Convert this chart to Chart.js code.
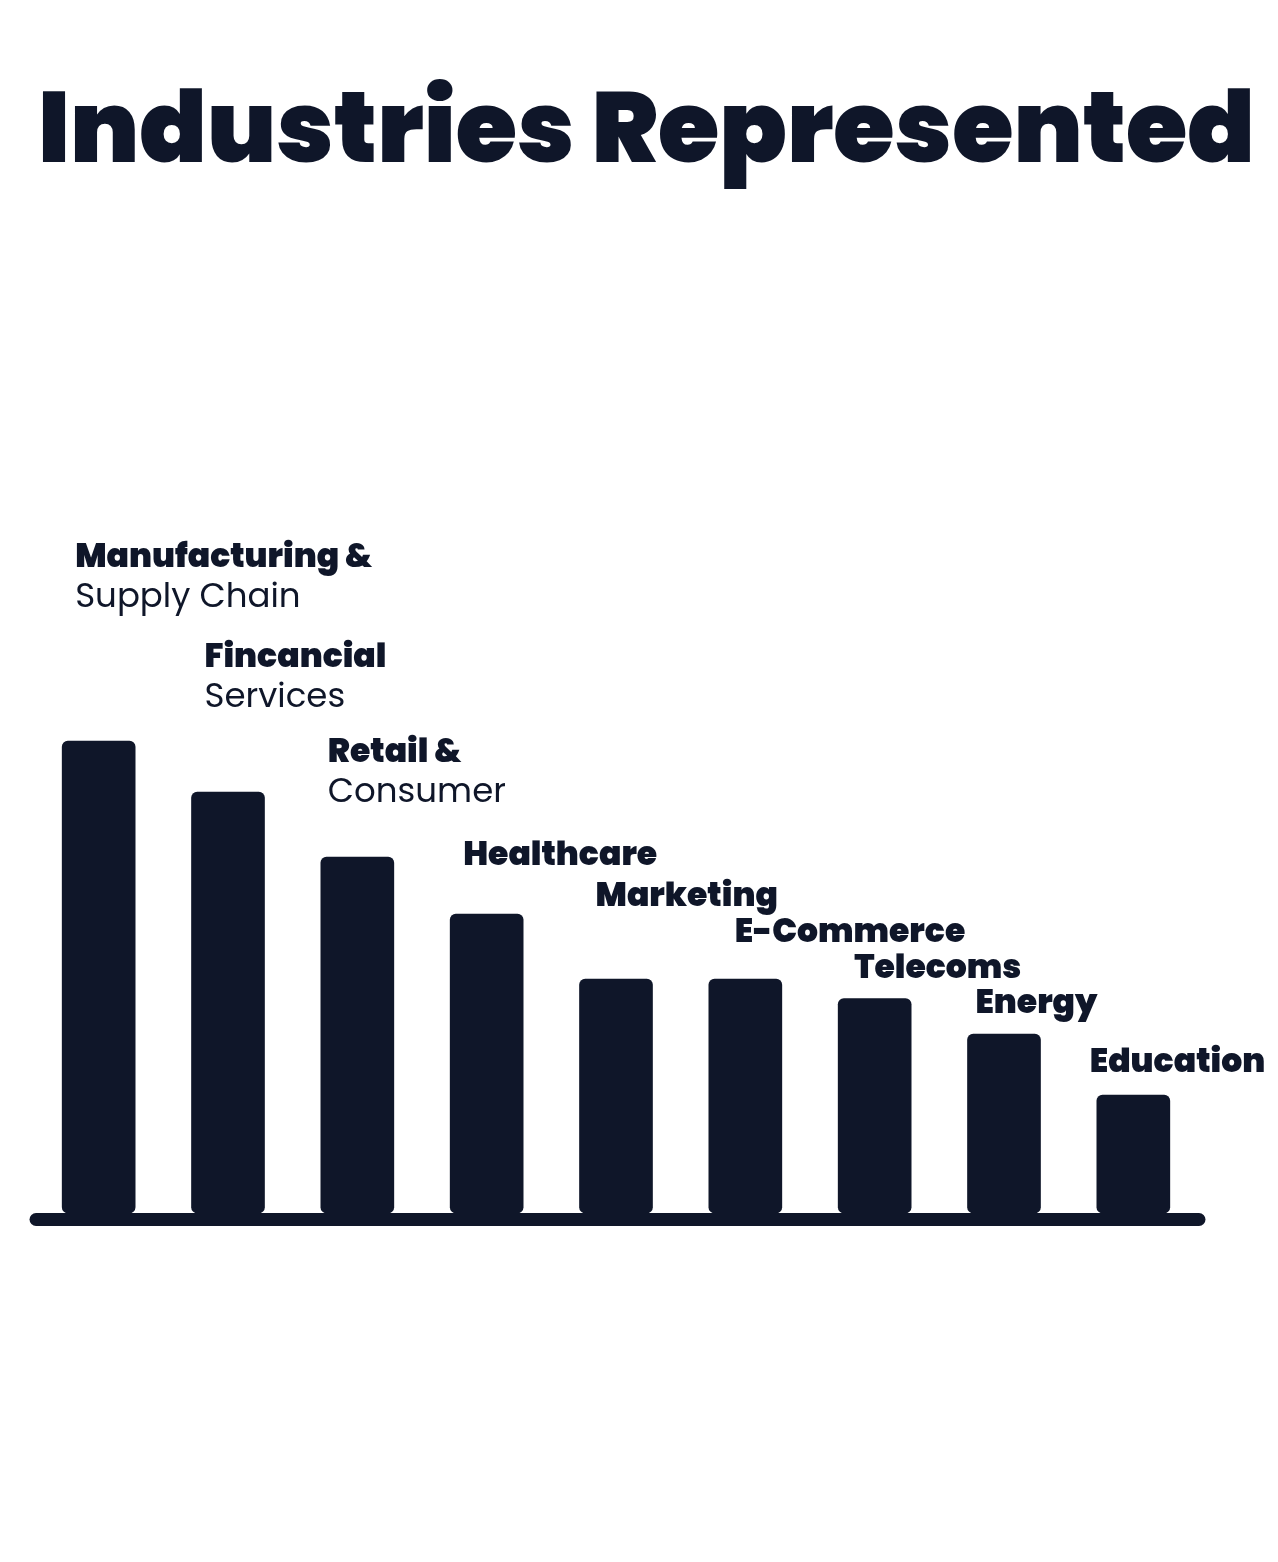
<!DOCTYPE html>
<html>
<head>
<meta charset="utf-8">
<script src="https://cdn.jsdelivr.net/npm/chart.js@4.4.1/dist/chart.umd.min.js"></script>
<style>
  html, body { margin: 0; padding: 0; background: #ffffff; }
  #wrap { width: 1278px; height: 1562px; position: relative; }
</style>
</head>
<body>
<div id="wrap"><canvas id="c"></canvas></div>
<script>
// ---- data ----
const categories = ["Manufacturing & Supply Chain", "Financial Services", "Retail & Consumer", "Healthcare", "Marketing", "E-Commerce", "Telecoms", "Energy", "Education"];
const values = [24, 21.4, 18.1, 15.2, 11.9, 11.9, 10.9, 9.1, 6];
const labelBold = ["Manufacturing &", "Fincancial", "Retail &", "Healthcare", "Marketing", "E-Commerce", "Telecoms", "Energy", "Education"];
const labelRegular = ["Supply Chain", "Services", "Consumer", "", "", "", "", "", ""];
const titleText = "Industries Represented";

// ---- style ----
const INK = "#0f1629";
const FAMILY = "Poppins, Inter, 'Noto Sans', sans-serif";
// label placement relative to each bar's top-left corner (style, not data)
const labelDx = [13, 13, 7, 13, 16, 26, 16, 8, -7];
const labelDy = [-174, -125, -95, -49, -73, -37, -21, -21, -23];

const decorPlugin = {
  id: "decor",
  afterDatasetsDraw(chart) {
    const ctx = chart.ctx;
    const meta = chart.getDatasetMeta(0);
    const area = chart.chartArea;
    ctx.save();
    // title, fitted to the reference width
    ctx.fillStyle = INK;
    ctx.textAlign = "center";
    ctx.textBaseline = "alphabetic";
    ctx.font = "900 100px " + FAMILY;
    const tSize = 100 * 1217 / ctx.measureText(titleText).width;
    ctx.font = "900 " + tSize.toFixed(2) + "px " + FAMILY;
    ctx.fillText(titleText, 646.5, 162);
    // baseline axis with round caps
    ctx.strokeStyle = INK;
    ctx.lineWidth = 13;
    ctx.lineCap = "round";
    ctx.beginPath();
    ctx.moveTo(area.left + 2, area.bottom + 6.5);
    ctx.lineTo(area.right + 1, area.bottom + 6.5);
    ctx.stroke();
    // labels
    ctx.textAlign = "left";
    meta.data.forEach((bar, i) => {
      const left = bar.x - bar.width / 2 + labelDx[i];
      const base = bar.y + labelDy[i];
      ctx.font = "900 33px " + FAMILY;
      ctx.fillText(labelBold[i], left, base);
      if (labelRegular[i]) {
        ctx.font = "400 34px " + FAMILY;
        ctx.fillText(labelRegular[i], left, base + 40);
      }
    });
    ctx.restore();
  }
};

new Chart(document.getElementById("c"), {
  type: "bar",
  data: {
    labels: categories,
    datasets: [{
      data: values,
      backgroundColor: INK,
      borderRadius: 6,
      borderSkipped: false,
      barThickness: 73
    }]
  },
  options: {
    responsive: true,
    maintainAspectRatio: false,
    animation: false,
    layout: { padding: { left: 34, right: 80, bottom: 349, top: 623 } },
    plugins: {
      legend: { display: false },
      tooltip: { enabled: false },
      title: { display: false }
    },
    scales: {
      x: { display: false, grid: { display: false } },
      y: { display: false, min: 0, max: 30, grid: { display: false } }
    }
  },
  plugins: [decorPlugin]
});
</script>
</body>
</html>
